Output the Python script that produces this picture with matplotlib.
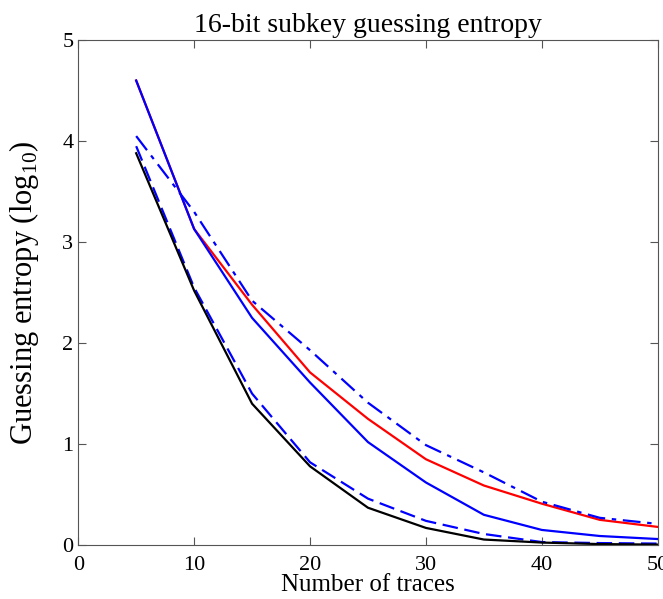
import numpy as np
import matplotlib
matplotlib.use("Agg")
import matplotlib.pyplot as plt

traces = [5, 10, 15, 20, 25, 30, 35, 40, 45, 50]

red_solid = [4.60, 3.13, 2.38, 1.71, 1.25, 0.85, 0.59, 0.41, 0.25, 0.18]
blue_solid = [4.60, 3.13, 2.25, 1.61, 1.02, 0.62, 0.30, 0.15, 0.09, 0.06]
blue_dashdot = [4.05, 3.30, 2.42, 1.93, 1.41, 0.99, 0.72, 0.43, 0.27, 0.21]
blue_dashed = [3.95, 2.55, 1.50, 0.82, 0.46, 0.24, 0.11, 0.03, 0.02, 0.015]
black_solid = [3.88, 2.52, 1.40, 0.78, 0.37, 0.17, 0.055, 0.025, 0.01, 0.005]

plt.rcParams['font.family'] = ['Liberation Serif', 'DejaVu Serif']
plt.rcParams['mathtext.fontset'] = 'custom'
plt.rcParams['mathtext.rm'] = 'Liberation Serif'

fig = plt.figure(figsize=(6.63, 5.99), dpi=100)
ax = fig.add_axes([0.118, 0.090, 0.874, 0.843])

ax.plot(traces, red_solid, color='red', linewidth=1.6)
ax.plot(traces, blue_solid, color='blue', linewidth=1.6)
ax.plot(traces, blue_dashdot, color='blue', linewidth=1.6, linestyle=(0, (8, 3, 2, 3)))
ax.plot(traces, blue_dashed, color='blue', linewidth=1.6, linestyle=(0, (7, 3)))
ax.plot(traces, black_solid, color='black', linewidth=1.6)

ax.set_xlim(0, 50)
ax.set_ylim(0, 5)
ax.set_xticks([0, 10, 20, 30, 40, 50])
ax.set_yticks([0, 1, 2, 3, 4, 5])
ax.tick_params(direction='in', top=True, right=True, labelsize=16, length=6, color='#555555')
ax.tick_params(axis='x', pad=8)
for s in ax.spines.values():
    s.set_color('#555555')

ax.set_title('16-bit subkey guessing entropy', fontsize=20, pad=6)
ax.set_xlabel('Number of traces', fontsize=18, labelpad=-1)
ax.set_ylabel('Guessing entropy (log$_{10}$)', fontsize=22, labelpad=15)

fig.savefig('out.png', dpi=100)
